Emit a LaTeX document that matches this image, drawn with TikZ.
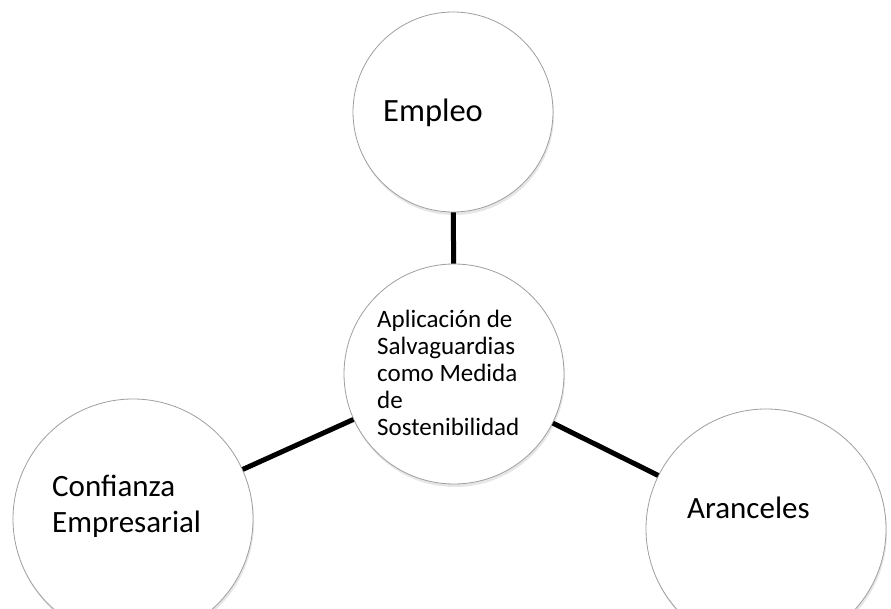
\documentclass[tikz,border=0pt]{standalone}
\usepackage{fontspec}
\setmainfont{Carlito}
\usetikzlibrary{shadows}

\tikzset{
  bubble/.style={circle, draw=gray!75, line width=0.8pt, fill=white, inner sep=0pt,
    drop shadow={shadow xshift=1pt, shadow yshift=-3pt, opacity=0.2, fill=gray}},
  link/.style={line width=5pt},
  bigtext/.style={inner sep=0pt, align=left, font=\fontsize{31}{35.5}\selectfont},
  smalltext/.style={inner sep=0pt, align=left, font=\fontsize{25}{26.8}\selectfont}
}

\begin{document}
\begin{tikzpicture}[x=1pt, y=-1pt]
  \useasboundingbox (0,0) rectangle (891,609);

  \node[bubble, minimum size=200pt] (emp) at (453, 112) {};
  \node[bubble, minimum size=220pt] (apl) at (454, 374) {};
  \node[bubble, minimum size=240pt] (conf) at (133, 519) {};
  \node[bubble, minimum size=240pt] (aran) at (766, 529) {};

  \draw[link] (emp) -- (apl);
  \draw[link] (conf) -- (apl);
  \draw[link] (aran) -- (apl);

  % base anchor sits on the last line
  \node[bigtext, font=\fontsize{32.5}{36}\selectfont, anchor=base west] (empt) at (383, 122) {Empleo};
  \node[smalltext, anchor=base west] (aplt) at (377, 435)
    {Aplicación de\\Salvaguardias\\como Medida\\de\\Sostenibilidad};
  \node[bigtext, anchor=base west] (conft) at (52, 532) {Confianza\\Empresarial};
  \node[bigtext, anchor=base west] (arant) at (687, 518) {Aranceles};
\end{tikzpicture}
\end{document}
